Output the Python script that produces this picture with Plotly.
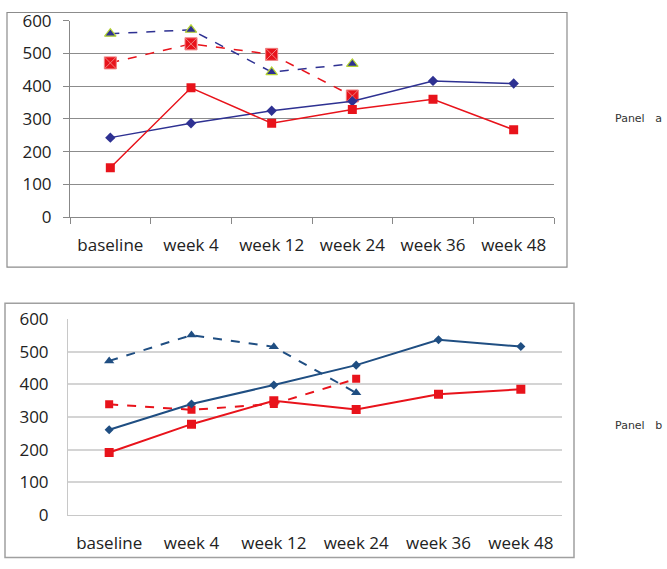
import plotly.graph_objects as go

categories = ["baseline", "week 4", "week 12", "week 24", "week 36", "week 48"]
y_ticks = [0, 100, 200, 300, 400, 500, 600]

# Panel a
a_blue_solid = [243, 287, 325, 354, 416, 408]
a_red_solid = [151, 395, 287, 329, 360, 267]
a_red_dashed = [471, 529, 497, 370]
a_blue_dashed = [560, 572, 443, 468]

# Panel b
b_blue_solid = [261, 340, 398, 459, 537, 516]
b_red_solid = [191, 278, 350, 323, 370, 385]
b_red_dashed = [339, 322, 340, 417]
b_blue_dashed = [472, 551, 515, 374]

W, H = 667, 569
NAVY = "#2E3192"
RED = "#E8131B"
BLUE_B = "#1F4E82"

fig = go.Figure()


def px(x):
    return x / W


def py(y):
    # target picture row -> figure row (picture is vertically offset/compressed)
    f = (y - 11.4) / 0.961
    f = min(max(f, 0.5), H - 0.5)
    return 1 - f / H


# Panel a traces
fig.add_trace(go.Scatter(x=categories[:4], y=a_blue_dashed, mode="lines+markers",
                         line=dict(color=NAVY, width=1.5, dash="dash"),
                         marker=dict(symbol="triangle-up", size=10, color=NAVY,
                                     line=dict(color="#B5D334", width=1.2)),
                         xaxis="x", yaxis="y", showlegend=False))
fig.add_trace(go.Scatter(x=categories[:4], y=a_red_dashed, mode="lines+markers",
                         line=dict(color=RED, width=1.5, dash="dash"),
                         marker=dict(symbol="square-x", size=12, color=RED,
                                     line=dict(color="#F08080", width=1)),
                         xaxis="x", yaxis="y", showlegend=False))
fig.add_trace(go.Scatter(x=categories, y=a_blue_solid, mode="lines+markers",
                         line=dict(color=NAVY, width=1.5),
                         marker=dict(symbol="diamond", size=8, color=NAVY),
                         xaxis="x", yaxis="y", showlegend=False))
fig.add_trace(go.Scatter(x=categories, y=a_red_solid, mode="lines+markers",
                         line=dict(color=RED, width=1.5),
                         marker=dict(symbol="square", size=9, color=RED),
                         xaxis="x", yaxis="y", showlegend=False))

# Panel b traces
fig.add_trace(go.Scatter(x=categories[:4], y=b_blue_dashed, mode="lines+markers",
                         line=dict(color=BLUE_B, width=2, dash="dash"),
                         marker=dict(symbol="triangle-up", size=9, color=BLUE_B),
                         xaxis="x2", yaxis="y2", showlegend=False))
fig.add_trace(go.Scatter(x=categories[:4], y=b_red_dashed, mode="lines+markers",
                         line=dict(color=RED, width=2, dash="dash"),
                         marker=dict(symbol="square", size=8, color=RED),
                         xaxis="x2", yaxis="y2", showlegend=False))
fig.add_trace(go.Scatter(x=categories, y=b_blue_solid, mode="lines+markers",
                         line=dict(color=BLUE_B, width=2),
                         marker=dict(symbol="diamond", size=7, color=BLUE_B),
                         xaxis="x2", yaxis="y2", showlegend=False))
fig.add_trace(go.Scatter(x=categories, y=b_red_solid, mode="lines+markers",
                         line=dict(color=RED, width=2),
                         marker=dict(symbol="square", size=9, color=RED),
                         xaxis="x2", yaxis="y2", showlegend=False))

font_tick = dict(family="Open Sans, Noto Sans, sans-serif", size=17, color="#222222")

fig.update_layout(
    width=W, height=H,
    margin=dict(l=0, r=0, t=0, b=0),
    paper_bgcolor="white", plot_bgcolor="white",
    xaxis=dict(domain=[px(70), px(554)], anchor="y", categoryorder="array",
               categoryarray=categories, tickson="boundaries", ticks="outside",
               ticklen=6, tickcolor="#888888", showgrid=False, showline=True,
               linecolor="#888888", linewidth=1, tickfont=font_tick,
               ticklabelstandoff=12, range=[-0.5, 5.5]),
    yaxis=dict(domain=[py(217), py(20)], anchor="x", range=[0, 600],
               tickvals=y_ticks, ticks="outside", ticklen=6, tickcolor="#888888",
               showgrid=True, gridcolor="#8C8C8C", gridwidth=1,
               showline=True, linecolor="#888888", zeroline=False,
               tickfont=font_tick, ticklabelstandoff=8),
    xaxis2=dict(domain=[px(68), px(562)], anchor="y2", categoryorder="array",
                categoryarray=categories, ticks="", showgrid=False, showline=True,
                linecolor="#C8C8C8", tickfont=font_tick, ticklabelstandoff=13,
                range=[-0.5, 5.5]),
    yaxis2=dict(domain=[py(515), py(319)], anchor="x2", range=[0, 600],
                tickvals=y_ticks, ticks="", showgrid=True, gridcolor="#D4D4D4",
                gridwidth=1.5, showline=True, linecolor="#C8C8C8", zeroline=False,
                tickfont=font_tick, ticklabelstandoff=15),
    shapes=[
        dict(type="rect", xref="paper", yref="paper", x0=px(7), x1=px(567),
             y0=py(267), y1=py(4), line=dict(color="#8C8C8C", width=1.2)),
        dict(type="rect", xref="paper", yref="paper", x0=px(5), x1=px(574),
             y0=py(564), y1=py(303), line=dict(color="#A0A0A0", width=1.5)),
    ],
    annotations=[
        dict(text="Panel\u00a0\u00a0\u00a0a", xref="paper", yref="paper", x=px(613), y=py(118),
             xanchor="left", yanchor="middle", showarrow=False,
             font=dict(family="DejaVu Sans", size=11, color="#333333")),
        dict(text="Panel\u00a0\u00a0\u00a0b", xref="paper", yref="paper", x=px(613), y=py(426),
             xanchor="left", yanchor="middle", showarrow=False,
             font=dict(family="DejaVu Sans", size=11, color="#333333")),
    ],
)

post = (
    "document.documentElement.style.margin='0';"
    "document.documentElement.style.overflow='hidden';"
    "document.body.style.margin='0';"
    "document.body.style.overflow='hidden';"
    "var gd=document.getElementById('{plot_id}');"
    "gd.style.position='fixed';gd.style.top='0px';gd.style.left='0px';"
)

fig.write_html("out.html", config={"displayModeBar": False}, post_script=post)
